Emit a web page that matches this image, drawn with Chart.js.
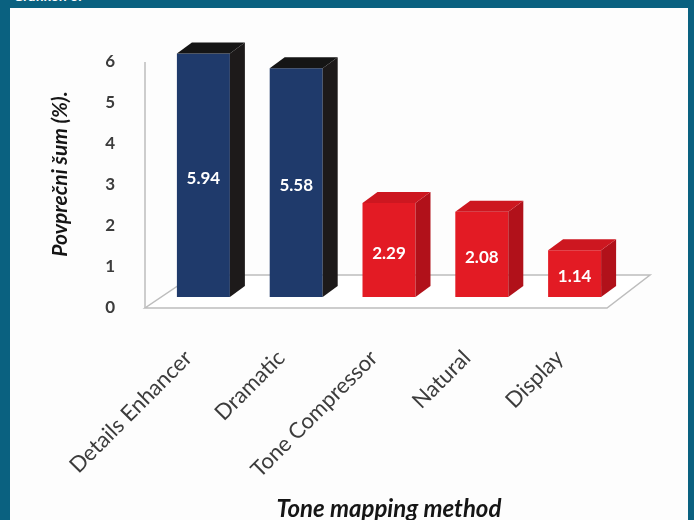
<!DOCTYPE html>
<html>
<head>
<meta charset="utf-8">
<script src="https://cdn.jsdelivr.net/npm/chart.js@4.4.1/dist/chart.umd.min.js"></script>
<style>
  html, body { margin: 0; padding: 0; }
  body { width: 694px; height: 520px; background: #0a6180; position: relative; overflow: hidden; }
  #panel { position: absolute; left: 10px; top: 8px; width: 678px; height: 512px; background: #fdfdfd; }
  #caption { position: absolute; left: 13px; top: -11px; color: #ffffff; font: bold 14px/14px Lato, sans-serif; }
  canvas { position: absolute; left: 0; top: 0; }
</style>
</head>
<body>
<div id="caption">Grafikon 6.</div>
<div id="panel"></div>
<canvas id="chart" width="694" height="520"></canvas>
<script>
// Average noise per tone mapping method
const categories = ['Details Enhancer', 'Dramatic', 'Tone Compressor', 'Natural', 'Display'];
const noiseValues = [5.94, 5.58, 2.29, 2.08, 1.14];
const yTicks = [0, 1, 2, 3, 4, 5, 6];

// Face colours of the boxes (front / top / side)
const frontColors = ['#1f3a6b', '#1f3a6b', '#e31b24', '#e31b24', '#e31b24'];
const topColors = ['#151515', '#151515', '#cd1720', '#cd1720', '#cd1720'];
const sideColors = ['#1d1a1a', '#1d1a1a', '#b1111a', '#b1111a', '#b1111a'];

const DEPTH_X = 15;
const DEPTH_Y = -11;

function poly(ctx, pts, fill) {
  ctx.beginPath();
  ctx.moveTo(pts[0][0], pts[0][1]);
  for (let k = 1; k < pts.length; k++) ctx.lineTo(pts[k][0], pts[k][1]);
  ctx.closePath();
  ctx.fillStyle = fill;
  ctx.fill();
}

// Floor, wall edge and the extruded faces of each bar
const box3d = {
  id: 'box3d',
  beforeDatasetsDraw(chart) {
    const { ctx, chartArea: a, scales: { y } } = chart;
    const y0 = y.getPixelForValue(0);
    const front = y0 + 11;
    const back = y0 - 22;
    ctx.save();
    ctx.strokeStyle = '#bdbdbd';
    ctx.lineWidth = 1.5;
    ctx.beginPath();
    ctx.moveTo(a.left - 12, y.getPixelForValue(6) + 11);
    ctx.lineTo(a.left - 12, front);
    ctx.stroke();
    ctx.beginPath();
    ctx.moveTo(a.left - 12, front);
    ctx.lineTo(a.right - 14, front);
    ctx.lineTo(a.right + 29, back);
    ctx.lineTo(a.left + 37, back);
    ctx.closePath();
    ctx.fillStyle = '#ffffff';
    ctx.fill();
    ctx.stroke();
    ctx.restore();
  },
  afterDatasetsDraw(chart) {
    const { ctx } = chart;
    const meta = chart.getDatasetMeta(0);
    const data = chart.data.datasets[0].data;
    ctx.save();
    meta.data.forEach((bar, i) => {
      const { x, y, base, width } = bar.getProps(['x', 'y', 'base', 'width'], true);
      const l = x - width / 2;
      const r = x + width / 2;
      poly(ctx, [[r, y], [r + DEPTH_X, y + DEPTH_Y], [r + DEPTH_X, base + DEPTH_Y], [r, base]], sideColors[i]);
      poly(ctx, [[l, y], [l + DEPTH_X, y + DEPTH_Y], [r + DEPTH_X, y + DEPTH_Y], [r, y]], topColors[i]);
      ctx.fillStyle = '#ffffff';
      ctx.font = 'bold 17px Lato, sans-serif';
      ctx.textAlign = 'center';
      ctx.textBaseline = 'middle';
      ctx.fillText(data[i].toFixed(2), x, (y + base) / 2 + 3);
    });
    ctx.restore();
  }
};

new Chart(document.getElementById('chart'), {
  type: 'bar',
  data: {
    labels: categories,
    datasets: [{
      data: noiseValues,
      backgroundColor: frontColors,
      borderWidth: 0,
      barPercentage: 0.571,
      categoryPercentage: 1
    }]
  },
  options: {
    responsive: false,
    animation: false,
    events: [],
    layout: { padding: { top: 51, right: 73, bottom: 0, left: 0 } },
    plugins: { legend: { display: false }, tooltip: { enabled: false } },
    scales: {
      x: {
        type: 'category',
        offset: true,
        grid: { display: false },
        border: { display: false },
        ticks: {
          font: { family: 'Lato', size: 22 },
          color: '#3c3c3c',
          minRotation: 45,
          maxRotation: 45,
          autoSkip: false,
          padding: 40,
          labelOffset: -15
        },
        title: {
          display: true,
          text: 'Tone mapping method',
          font: { family: 'Lato', size: 24, weight: 'bold', style: 'italic' },
          color: '#151515',
          padding: { top: 0, bottom: -4 }
        },
        afterFit(s) { s.height = 223; }
      },
      y: {
        min: 0,
        max: 6,
        afterBuildTicks(s) { s.ticks = yTicks.map(v => ({ value: v })); },
        grid: { display: false },
        border: { display: false },
        ticks: {
          font: { family: 'Lato', size: 17, weight: 'bold' },
          color: '#3c3c3c',
          padding: 34,
          labelOffset: 11
        },
        title: {
          display: true,
          text: 'Povprečni šum (%).',
          font: { family: 'Lato', size: 21, weight: 'bold', style: 'italic' },
          color: '#151515',
          padding: { top: 48, bottom: 0 }
        },
        afterFit(s) { s.width = 157; }
      }
    }
  },
  plugins: [box3d]
});
</script>
</body>
</html>
